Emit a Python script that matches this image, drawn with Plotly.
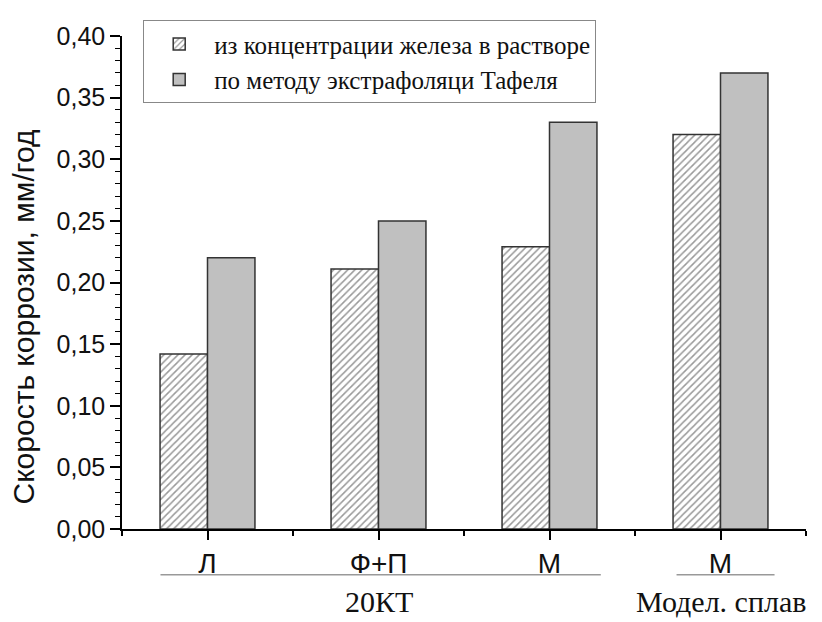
import plotly.graph_objects as go

categories = ["Л", "Ф+П", "М", "М"]
x_pos = [0, 1, 2, 3]
iron_conc = [0.142, 0.211, 0.229, 0.320]
tafel = [0.220, 0.250, 0.330, 0.370]
series_names = ["из концентрации железа в растворе", "по методу экстрафоляци Тафеля"]
group_labels = ["20КТ", "Модел. сплав"]
y_title = "Скорость коррозии, мм/год"
y_ticks = [0.0, 0.05, 0.10, 0.15, 0.20, 0.25, 0.30, 0.35, 0.40]

fig = go.Figure()
fig.add_trace(go.Bar(
    x=x_pos, y=iron_conc, name=series_names[0],
    marker=dict(color="white",
                line=dict(color="#333333", width=1.5),
                pattern=dict(shape="/", size=5, solidity=0.3,
                             fgcolor="#333333", bgcolor="white")),
))
fig.add_trace(go.Bar(
    x=x_pos, y=tafel, name=series_names[1],
    marker=dict(color="#c0c0c0", line=dict(color="#333333", width=1.5)),
))

fig.update_layout(
    width=814, height=614,
    margin=dict(l=114, r=16, t=17, b=93),
    paper_bgcolor="white", plot_bgcolor="white",
    barmode="group", bargap=0.445, bargroupgap=0,
    separators=",.",
    showlegend=True,
    legend=dict(x=0.031, y=1.032, xanchor="left", yanchor="top",
                bgcolor="white", bordercolor="#888888", borderwidth=1,
                font=dict(family="Liberation Serif", size=25, color="#111111"),
                itemwidth=60, tracegroupgap=0),
    font=dict(family="Liberation Sans", color="#111111"),
)

fig.update_xaxes(
    range=[-0.5, 3.5], tickmode="array", tickvals=x_pos, ticktext=categories,
    showline=True, linecolor="black", linewidth=1.5,
    ticks="outside", ticklen=9, tickwidth=1.5, tickcolor="black",
    tickfont=dict(family="Liberation Sans", size=28, color="#111111"),
    showgrid=False, zeroline=False,
    minor=dict(tick0=0.5, dtick=1, ticks="outside", ticklen=5, tickwidth=1.5, tickcolor="black"),
)
fig.update_yaxes(
    range=[0, 0.40], tickmode="array", tickvals=y_ticks, tickformat=".2f",
    showline=True, linecolor="black", linewidth=1.5,
    ticks="outside", ticklen=10, tickwidth=1.5, tickcolor="black",
    tickfont=dict(family="Liberation Sans", size=25, color="#111111"),
    showgrid=False, zeroline=False,
    minor=dict(dtick=0.01, tick0=0, ticks="outside", ticklen=5, tickwidth=1.2, tickcolor="black"),
)

fig.add_annotation(x=-0.144, y=0.43, xref="paper", yref="paper", text=y_title, showarrow=False,
                   textangle=-90, xanchor="center", yanchor="middle", borderpad=0,
                   font=dict(family="Liberation Sans", size=30, color="#111111"))

# group separator lines and labels
fig.add_shape(type="line", xref="x", yref="paper", x0=-0.275, x1=2.30, y0=-0.093, y1=-0.093,
              line=dict(color="#999999", width=1.5))
fig.add_shape(type="line", xref="x", yref="paper", x0=2.743, x1=3.316, y0=-0.093, y1=-0.093,
              line=dict(color="#999999", width=1.5))
fig.add_annotation(x=1, y=-0.148, xref="x", yref="paper", text=group_labels[0], showarrow=False,
                   yanchor="middle", borderpad=0,
                   font=dict(family="Liberation Serif", size=30, color="#111111"))
fig.add_annotation(x=3, y=-0.148, xref="x", yref="paper", text=group_labels[1], showarrow=False,
                   yanchor="middle", borderpad=0,
                   font=dict(family="Liberation Serif", size=30, color="#111111"))

fig.write_html("out.html")
